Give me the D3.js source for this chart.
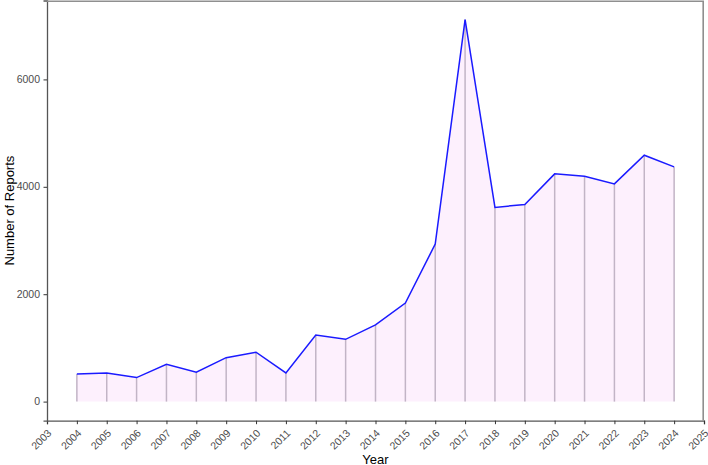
<!DOCTYPE html>
<html><head><meta charset="utf-8">
<script src="https://cdn.jsdelivr.net/npm/d3@7"></script>
<style>html,body{margin:0;padding:0;background:#fff;overflow:hidden;width:708px;height:465px}svg{display:block}text{font-family:"Liberation Sans",Arial,sans-serif}</style>
</head><body><svg id="c" width="708" height="465"></svg>
<script>
const years = [2004,2005,2006,2007,2008,2009,2010,2011,2012,2013,2014,2015,2016,2017,2018,2019,2020,2021,2022,2023,2024];
const reports = [515,534,447,696,547,818,919,534,1241,1160,1427,1836,2933,7114,3616,3672,4241,4198,4055,4589,4371];
const xTicks = d3.range(2003,2026);
const yTicks = [0,2000,4000,6000];

const svg = d3.select("#c");
const L=47, R=704, T=0.5, B=420.7;
const x = d3.scaleLinear().domain([2003,2025]).range([L,R]);
const yMax = d3.max(reports), ex = yMax*0.05;
const y = d3.scaleLinear().domain([-ex, yMax+ex]).range([B,T]);

const data = years.map((yr,i)=>({yr, v:reports[i]}));
svg.append("path").datum(data)
  .attr("d", d3.area().x(d=>x(d.yr)).y0(y(0)).y1(d=>y(d.v)))
  .attr("fill","#fdf0fd");
svg.selectAll("line.drop").data(data).join("line").attr("class","drop")
  .attr("x1",d=>x(d.yr)).attr("x2",d=>x(d.yr)).attr("y1",y(0)).attr("y2",d=>y(d.v))
  .attr("stroke","#c2b4c6").attr("stroke-width",1.5);
svg.append("path").datum(data)
  .attr("d", d3.line().x(d=>x(d.yr)).y(d=>y(d.v)))
  .attr("fill","none").attr("stroke","#1a1aff").attr("stroke-width",1.5);

const xa = svg.append("g").attr("transform",`translate(0,${B})`)
  .call(d3.axisBottom(x).tickValues(xTicks).tickFormat("").tickSizeOuter(0).tickSize(3.5));
xa.select(".domain").attr("stroke","#555").attr("stroke-width",1.3);
xa.selectAll(".tick line").attr("stroke","#333");
xa.selectAll(".tick text").remove();
svg.append("g").selectAll("text").data(xTicks).join("text")
  .attr("transform",d=>`translate(${x(d)-0.5},${B+7.5}) rotate(-45)`)
  .attr("text-anchor","end").attr("dominant-baseline","hanging")
  .attr("fill","#4d4d4d").style("font-size","10.5px").text(d=>d);

const ya = svg.append("g").attr("transform",`translate(${L},0)`)
  .call(d3.axisLeft(y).tickValues(yTicks).tickFormat("").tickSizeOuter(0).tickSize(3.5));
ya.select(".domain").attr("stroke","#555").attr("stroke-width",1.3);
ya.selectAll(".tick line").attr("stroke","#333");
ya.selectAll(".tick text").remove();
svg.append("g").selectAll("text").data(yTicks).join("text")
  .attr("x",L-7).attr("y",d=>y(d)).attr("dy","0.35em").attr("text-anchor","end")
  .attr("fill","#4d4d4d").style("font-size","10.5px").text(d=>d);

// panel border (top + right), drawn last
svg.append("path")
  .attr("d",`M${L},1.2H${R - 0.8}V${B}`)
  .style("fill","none").style("stroke","#8f8f8f").style("stroke-width","1.6px");

svg.append("text").attr("x",(L+R)/2).attr("y",463.5).attr("text-anchor","middle")
  .style("font-size","13px").attr("fill","#000").text("Year");
svg.append("text").attr("transform",`translate(13.5,${(T+B)/2}) rotate(-90)`).attr("text-anchor","middle")
  .style("font-size","13px").attr("fill","#000").text("Number of Reports");
</script></body></html>
